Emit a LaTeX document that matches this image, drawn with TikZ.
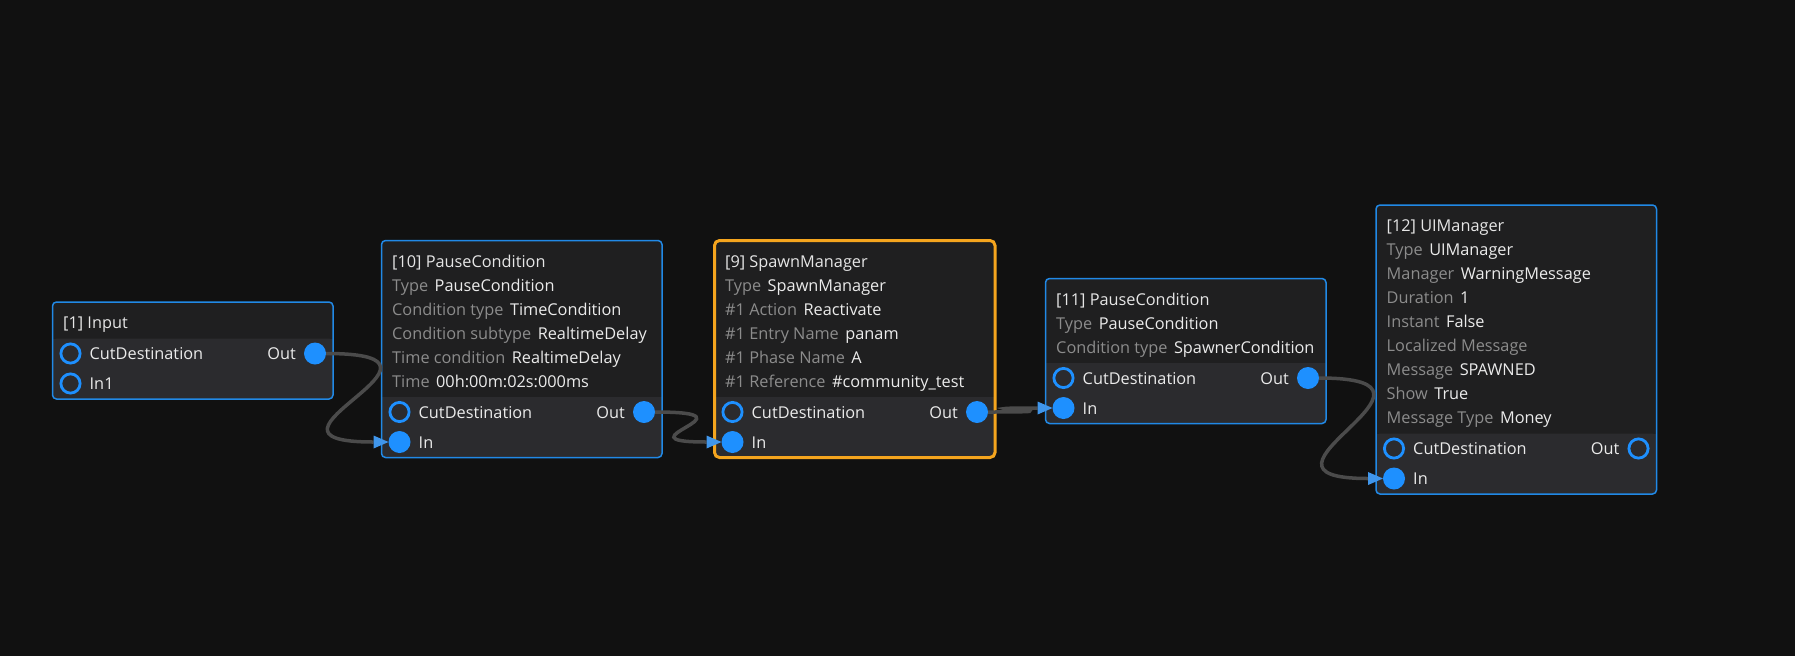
\documentclass[tikz,border=0pt]{standalone}
\usepackage{fontspec}
\setmainfont{Open Sans}
\usetikzlibrary{arrows.meta}
\definecolor{bgc}{RGB}{17,17,17}
\definecolor{bodyc}{RGB}{31,31,32}
\definecolor{portbgc}{RGB}{43,43,46}
\definecolor{framec}{RGB}{33,137,230}
\definecolor{orangec}{RGB}{245,165,30}
\definecolor{portc}{RGB}{30,144,255}
\definecolor{arrowc}{RGB}{64,150,235}
\definecolor{titlec}{RGB}{230,230,230}
\definecolor{labelc}{RGB}{140,140,140}
\definecolor{valc}{RGB}{235,235,235}
\definecolor{wirec}{RGB}{75,75,75}
\newcommand\gfont{\fontsize{16.3}{19}\selectfont}
\tikzset{
 body/.style={fill=bodyc, rounded corners=4pt, inner sep=0pt, outer sep=0pt, anchor=north west, minimum width=280.5pt},
 blueframe/.style={draw=framec, line width=1.5pt, rounded corners=4pt},
 orangeframe/.style={draw=orangec, line width=3pt, rounded corners=5pt},
 ttl/.style={anchor=base west, inner sep=0pt, text=titlec, font=\gfont},
 prop/.style={anchor=base west, inner sep=0pt, font=\gfont},
 plabel/.style={anchor=base west, inner sep=0pt, text=valc, font=\gfont},
 plabelr/.style={anchor=base east, inner sep=0pt, text=valc, font=\gfont},
 portfull/.style={circle, fill=portc, minimum size=22pt, inner sep=0pt, outer sep=0pt},
 portring/.style={circle, draw=portc, line width=2.8pt, minimum size=19.2pt, inner sep=0pt, outer sep=0pt},
 wire/.style={draw=wirec, line width=3.5pt, -{Triangle[length=15pt,width=13pt,line width=0pt,color=arrowc]}},
}
% #1 name, #2 x, #3 top, #4 number of property rows, #5 frame style
\newcommand\gnode[5]{%
 \def\gx{#2}\def\gy{#3}%
 \pgfmathsetmacro\gbt{#3+36.5+24*#4}%
 \pgfmathsetmacro\gbb{\gbt+60.5}%
 \pgfmathsetmacro\gbh{\gbb-#3}%
 \pgfmathsetmacro\gbr{#2+280.5}%
 \pgfmathsetmacro\gpa{\gbt+15}%
 \pgfmathsetmacro\gpb{\gbt+45}%
 \pgfmathsetmacro\gcl{#2+18}%
 \pgfmathsetmacro\gcr{\gbr-18}%
 \node[body, minimum height=\gbh pt] (#1) at (#2,#3) {};
 \fill[portbgc, rounded corners=4pt] (#2,\gbt) rectangle (\gbr,\gbb);
 \fill[portbgc] (#2,\gbt) rectangle (\gbr,\gbt+8);
 \draw[#5] (#1.north west) rectangle (#1.south east);
}
\newcommand\gtitle[2]{\node[ttl] (#1) at (\gx+10.5,\gy+26.6) {#2};}
\newcommand\gprop[4]{\node[prop] (#1) at (\gx+10.5,\gy+26.6+24*#2) {\textcolor{labelc}{#3}\hspace{6.5pt}\textcolor{valc}{#4}};}
\newcommand\gpropl[3]{\node[prop] (#1) at (\gx+10.5,\gy+26.6+24*#2) {\textcolor{labelc}{#3}};}
% #1 name, #2 style, #3 y, #4 label
\newcommand\gportL[4]{%
 \node[#2] (#1) at (\gcl,#3) {};
 \node[plabel] (#1-l) at (\gcl+19,#3+6.4) {#4};}
\newcommand\gportR[3]{%
 \node[#2] (#1) at (\gcr,#3) {};
 \node[plabelr] (#1-l) at (\gcr-19,#3+6.4) {Out};}
\begin{document}
\begin{tikzpicture}[x=1pt,y=-1pt]
\useasboundingbox (0,0) rectangle (1795,656);
\fill[bgc] (0,0) rectangle (1795,656);

% [1] Input
\gnode{n1}{52.5}{302}{0}{blueframe}
\gtitle{n1t}{[1] Input}
\gportL{n1cut}{portring}{\gpa}{CutDestination}
\gportR{n1out}{portfull}{\gpa}
\gportL{n1in}{portring}{\gpb}{In1}

% [10] PauseCondition
\gnode{n10}{381.5}{240.5}{5}{blueframe}
\gtitle{n10t}{[10] PauseCondition}
\gprop{n10a}{1}{Type}{PauseCondition}
\gprop{n10b}{2}{Condition type}{TimeCondition}
\gprop{n10c}{3}{Condition subtype}{RealtimeDelay}
\gprop{n10d}{4}{Time condition}{RealtimeDelay}
\gprop{n10e}{5}{Time}{00h:00m:02s:000ms}
\gportL{n10cut}{portring}{\gpa}{CutDestination}
\gportR{n10out}{portfull}{\gpa}
\gportL{n10in}{portfull}{\gpb}{In}

% [9] SpawnManager
\gnode{n9}{714.5}{240.5}{5}{orangeframe}
\gtitle{n9t}{[9] SpawnManager}
\gprop{n9a}{1}{Type}{SpawnManager}
\gprop{n9b}{2}{\#1 Action}{Reactivate}
\gprop{n9c}{3}{\#1 Entry Name}{panam}
\gprop{n9d}{4}{\#1 Phase Name}{A}
\gprop{n9e}{5}{\#1 Reference}{\#community\_test}
\gportL{n9cut}{portring}{\gpa}{CutDestination}
\gportR{n9out}{portfull}{\gpa}
\gportL{n9in}{portfull}{\gpb}{In}

% [11] PauseCondition
\gnode{n11}{1045.5}{278.5}{2}{blueframe}
\gtitle{n11t}{[11] PauseCondition}
\gprop{n11a}{1}{Type}{PauseCondition}
\gprop{n11b}{2}{Condition type}{SpawnerCondition}
\gportL{n11cut}{portring}{\gpa}{CutDestination}
\gportR{n11out}{portfull}{\gpa}
\gportL{n11in}{portfull}{\gpb}{In}

% [12] UIManager
\gnode{n12}{1376}{205}{8}{blueframe}
\gtitle{n12t}{[12] UIManager}
\gprop{n12a}{1}{Type}{UIManager}
\gprop{n12b}{2}{Manager}{WarningMessage}
\gprop{n12c}{3}{Duration}{1}
\gprop{n12d}{4}{Instant}{False}
\gpropl{n12e}{5}{Localized Message}
\gprop{n12f}{6}{Message}{SPAWNED}
\gprop{n12g}{7}{Show}{True}
\gprop{n12h}{8}{Message Type}{Money}
\gportL{n12cut}{portring}{\gpa}{CutDestination}
\gportR{n12out}{portring}{\gpa}
\gportL{n12in}{portfull}{\gpb}{In}

% connectors
\draw[wire] (n1out.east) .. controls +(160,0) and +(-160,0) .. (n10in.west);
\draw[wire] (n10out.east) .. controls +(110,0) and +(-110,0) .. (n9in.west);
\draw[wire] (n9out.east) .. controls +(112,0) and +(-112,0) .. (n11in.west);
\draw[wire] (n11out.east) .. controls +(160,0) and +(-160,0) .. (n12in.west);
\end{tikzpicture}
\end{document}
